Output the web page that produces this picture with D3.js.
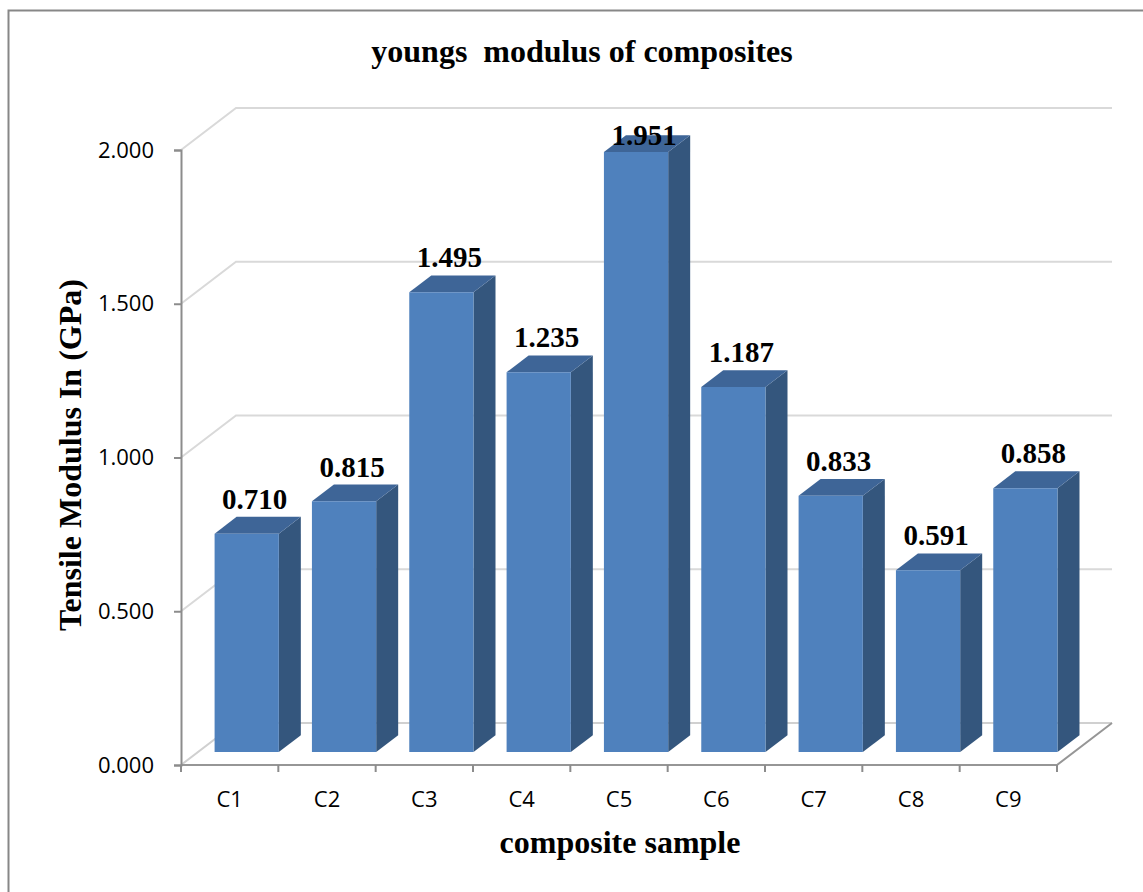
<!DOCTYPE html>
<html>
<head>
<meta charset="utf-8">
<script src="https://cdn.jsdelivr.net/npm/d3@7"></script>
<style>
  body { margin: 0; background: #fff; }
  .tick text { font-family: "Open Sans", sans-serif; font-size: 22px; fill: #000; }
  .ttl { font-family: "Liberation Serif", "Times New Roman", serif; font-weight: bold; fill: #000; }
</style>
</head>
<body>
<div class="chart"></div>
<script>
"use strict";
// chart data
var categories = ["C1", "C2", "C3", "C4", "C5", "C6", "C7", "C8", "C9"];
var modulus = [0.710, 0.815, 1.495, 1.235, 1.951, 1.187, 0.833, 0.591, 0.858];
var yTicks = [0, 0.5, 1.0, 1.5, 2.0];

var W = 1143, H = 892;
var plot = { left: 181, right: 1057, top: 150, bottom: 765 };
// oblique depth of the 3d box
var depth = { dx: 55, dy: -42 };
var barFront = 0.31, barBack = 0.71;

var svg = d3.select(".chart").append("svg")
  .attr("width", W).attr("height", H);

// chart border
svg.append("rect")
  .attr("x", 8.5).attr("y", 10.5)
  .attr("width", W + 20).attr("height", H + 20)
  .attr("fill", "none").attr("stroke", "#878787").attr("stroke-width", 2);

var x = d3.scaleBand().domain(categories).range([plot.left, plot.right]);
var y = d3.scaleLinear().domain([0, 2]).range([plot.bottom, plot.top]);

function proj(px, py, d) { return [px + depth.dx * d, py + depth.dy * d]; }
var line = d3.line();

// back wall + side wall grid lines
var grid = svg.append("g").attr("class", "grid");
yTicks.forEach(function(t){
  if (t === 0) return;
  grid.append("path")
    .attr("d", line([[plot.left, y(t)], proj(plot.left, y(t), 1), proj(plot.right, y(t), 1)]))
    .attr("fill", "none").attr("stroke", "#d9d9d9").attr("stroke-width", 2);
});

// floor
var floor = svg.append("g").attr("class", "floor");
floor.append("path")
  .attr("d", line([[plot.left, y(0)], proj(plot.left, y(0), 1), proj(plot.right, y(0), 1)]))
  .attr("fill", "none").attr("stroke", "#d0d0d0").attr("stroke-width", 2);
floor.append("path")
  .attr("d", line([[plot.left, y(0)], [plot.right, y(0)], proj(plot.right, y(0), 1)]))
  .attr("fill", "none").attr("stroke", "#969696").attr("stroke-width", 2);

// bars
var barW = x.bandwidth() * 0.66;
var bars = svg.append("g").attr("class", "bars")
  .selectAll(".bar").data(categories).enter()
  .append("g").attr("class", "bar");

function corners(c, i) {
  var x0 = x(c) + (x.bandwidth() - barW) / 2, x1 = x0 + barW;
  var yb = y(0), yt = y(modulus[i]);
  return {
    fbl: proj(x0, yb, barFront), fbr: proj(x1, yb, barFront),
    ftl: proj(x0, yt, barFront), ftr: proj(x1, yt, barFront),
    bbr: proj(x1, yb, barBack), btl: proj(x0, yt, barBack), btr: proj(x1, yt, barBack)
  };
}

bars.append("path")
  .attr("d", function(c, i){ var k = corners(c, i); return line([k.fbr, k.bbr, k.btr, k.ftr]) + "Z"; })
  .attr("fill", "#34567d");
bars.append("path")
  .attr("d", function(c, i){ var k = corners(c, i); return line([k.ftl, k.ftr, k.btr, k.btl]) + "Z"; })
  .attr("fill", "#3e6597");
bars.append("path")
  .attr("d", function(c, i){ var k = corners(c, i); return line([k.fbl, k.fbr, k.ftr, k.ftl]) + "Z"; })
  .attr("fill", "#4f81bd");

// value labels
svg.append("g").selectAll("text").data(categories).enter()
  .append("text").attr("class", "ttl")
  .attr("font-size", 29)
  .attr("text-anchor", "middle")
  .attr("x", function(c){ return x(c) + x.bandwidth() / 2 + depth.dx * barFront + 8; })
  .attr("y", function(c, i){ return Math.max(corners(c, i).btl[1] - 8, 145); })
  .text(function(c, i){ return d3.format(".3f")(modulus[i]); });

// y axis
var yAxis = svg.append("g")
  .attr("transform", "translate(" + plot.left + ",0)")
  .call(d3.axisLeft(y).tickValues(yTicks).tickFormat(d3.format(".3f")).tickSize(7).tickPadding(20));
yAxis.select(".domain").attr("stroke", "#8c8c8c").attr("stroke-width", 2);
yAxis.selectAll(".tick line").attr("stroke", "#8c8c8c").attr("stroke-width", 2);

// x axis ticks at category boundaries
var xAxis = svg.append("g");
xAxis.selectAll("line").data(d3.range(categories.length + 1)).enter()
  .append("line")
  .attr("x1", function(i){ return plot.left + i * x.step(); })
  .attr("x2", function(i){ return plot.left + i * x.step(); })
  .attr("y1", plot.bottom).attr("y2", plot.bottom + 7)
  .attr("stroke", "#8c8c8c").attr("stroke-width", 2);
xAxis.selectAll("text").data(categories).enter()
  .append("text")
  .attr("x", function(c){ return x(c) + x.bandwidth() / 2; })
  .attr("y", 807)
  .attr("text-anchor", "middle")
  .style("font-family", "'Open Sans', sans-serif").style("font-size", "22px")
  .text(function(c){ return c; });

// titles
svg.append("text").attr("class", "ttl")
  .attr("x", 582).attr("y", 62).attr("text-anchor", "middle")
  .attr("font-size", 32).style("white-space", "pre")
  .text("youngs  modulus of composites");
svg.append("text").attr("class", "ttl")
  .attr("x", 620).attr("y", 853).attr("text-anchor", "middle")
  .attr("font-size", 32)
  .text("composite sample");
svg.append("text").attr("class", "ttl")
  .attr("transform", "translate(81,455) rotate(-90)")
  .attr("text-anchor", "middle")
  .attr("font-size", 32)
  .text("Tensile Modulus In (GPa)");
</script>
</body>
</html>
